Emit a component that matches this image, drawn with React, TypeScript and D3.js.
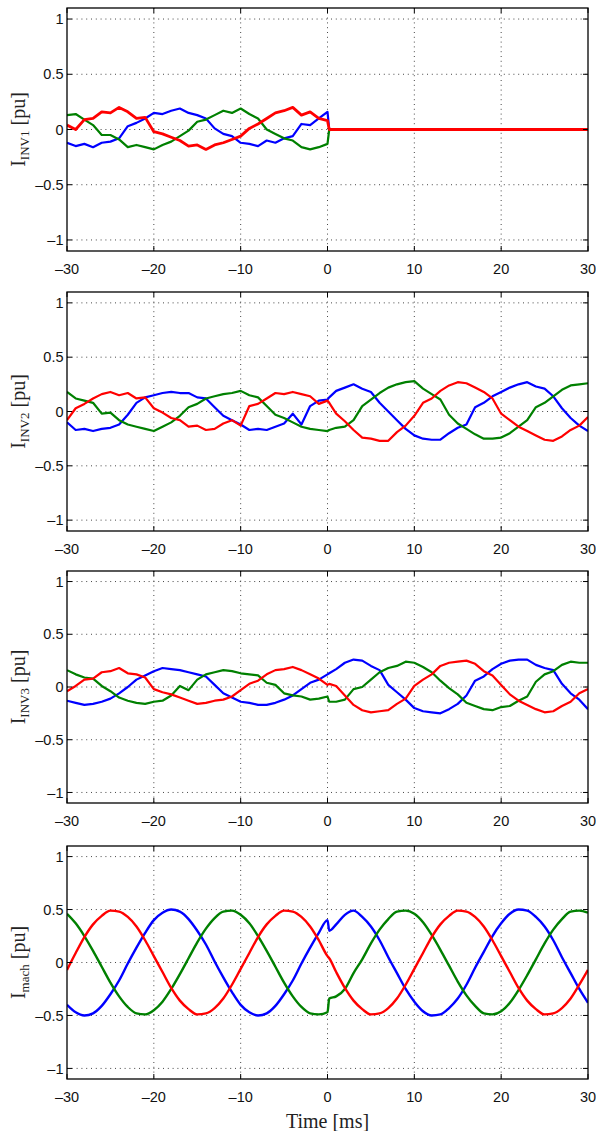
import React from "react";
import * as d3 from "d3";

// time axis [ms]; 0.2 is the sample just after the switching event
const time = [
  -30, -29, -28, -27, -26, -25, -24, -23, -22, -21,
  -20, -19, -18, -17, -16, -15, -14, -13, -12, -11,
  -10, -9, -8, -7, -6, -5, -4, -3, -2, -1,
  0, 0.2,
  1, 2, 3, 4, 5, 6, 7, 8, 9, 10,
  11, 12, 13, 14, 15, 16, 17, 18, 19, 20,
  21, 22, 23, 24, 25, 26, 27, 28, 29, 30,
];

const inv1Blue = [
  -0.12, -0.15, -0.13, -0.16, -0.12, -0.11, -0.08, 0.03, 0.06, 0.1,
  0.15, 0.14, 0.17, 0.19, 0.15, 0.13, 0.1, 0.01, -0.04, -0.06,
  -0.12, -0.13, -0.15, -0.1, -0.12, -0.08, -0.06, 0.05, 0.04, 0.1,
  0.16, 0,
  0, 0, 0, 0, 0, 0, 0, 0, 0, 0,
  0, 0, 0, 0, 0, 0, 0, 0, 0, 0,
  0, 0, 0, 0, 0, 0, 0, 0, 0, 0,
];
const inv1Green = [
  0.13, 0.14, 0.09, 0.04, -0.05, -0.05, -0.09, -0.16, -0.14, -0.16,
  -0.18, -0.14, -0.11, -0.06, -0.01, 0.07, 0.09, 0.13, 0.17, 0.15,
  0.19, 0.14, 0.1, 0.0, -0.04, -0.08, -0.1, -0.16, -0.18, -0.16,
  -0.13, 0,
  0, 0, 0, 0, 0, 0, 0, 0, 0, 0,
  0, 0, 0, 0, 0, 0, 0, 0, 0, 0,
  0, 0, 0, 0, 0, 0, 0, 0, 0, 0,
];
const inv1Red = [
  0.04, 0.0, 0.09, 0.1, 0.16, 0.15, 0.2, 0.16, 0.1, 0.11,
  -0.02, -0.04, -0.07, -0.1, -0.15, -0.14, -0.18, -0.14, -0.12, -0.09,
  -0.06, 0.01, 0.05, 0.1, 0.15, 0.17, 0.2, 0.13, 0.16, 0.1,
  0.08, 0,
  0, 0, 0, 0, 0, 0, 0, 0, 0, 0,
  0, 0, 0, 0, 0, 0, 0, 0, 0, 0,
  0, 0, 0, 0, 0, 0, 0, 0, 0, 0,
];

const inv2Blue = [
  -0.1, -0.17, -0.16, -0.18, -0.16, -0.15, -0.12, -0.03, 0.08, 0.13,
  0.15, 0.17, 0.18, 0.17, 0.17, 0.13, 0.12, 0.04, -0.04, -0.08,
  -0.12, -0.17, -0.16, -0.17, -0.14, -0.11, -0.02, -0.12, 0.05, 0.1,
  0.11, 0.13,
  0.19, 0.22, 0.25, 0.21, 0.18, 0.08, 0.0, -0.08, -0.16, -0.22,
  -0.25, -0.26, -0.26, -0.2, -0.15, -0.12, 0.04, 0.08, 0.14, 0.18,
  0.22, 0.25, 0.27, 0.23, 0.21, 0.14, 0.03, -0.06, -0.13, -0.18,
];
const inv2Green = [
  0.18, 0.12, 0.1, 0.08, -0.02, -0.01, -0.08, -0.12, -0.14, -0.16,
  -0.18, -0.14, -0.1, -0.04, 0.04, 0.07, 0.12, 0.14, 0.16, 0.17,
  0.19, 0.15, 0.13, 0.05, -0.03, -0.06, -0.1, -0.14, -0.16, -0.17,
  -0.18, -0.17,
  -0.15, -0.14, -0.08, 0.05, 0.11, 0.17, 0.22, 0.25, 0.27, 0.28,
  0.21, 0.16, 0.11, -0.03, -0.11, -0.16, -0.21, -0.25, -0.25, -0.24,
  -0.2, -0.14, -0.08, 0.04, 0.08, 0.14, 0.2, 0.24, 0.25, 0.26,
];
const inv2Red = [
  -0.08, 0.03, 0.07, 0.12, 0.16, 0.18, 0.15, 0.17, 0.12, 0.13,
  0.03, -0.01, -0.06, -0.08, -0.14, -0.13, -0.17, -0.16, -0.11, -0.08,
  -0.13, 0.05, 0.07, 0.12, 0.17, 0.16, 0.18, 0.16, 0.14, 0.07,
  0.1, 0.08,
  -0.02, -0.09, -0.17, -0.24, -0.25, -0.27, -0.27, -0.19, -0.13, -0.04,
  0.08, 0.12, 0.19, 0.24, 0.27, 0.26, 0.22, 0.18, 0.12, -0.02,
  -0.08, -0.14, -0.18, -0.22, -0.26, -0.27, -0.23, -0.17, -0.13, -0.05,
];

const inv3Blue = [
  -0.13, -0.15, -0.17, -0.16, -0.14, -0.11, -0.06, 0.0, 0.07, 0.11,
  0.15, 0.18, 0.17, 0.16, 0.14, 0.12, 0.1, 0.02, -0.06, -0.1,
  -0.14, -0.15, -0.17, -0.17, -0.15, -0.12, -0.08, -0.02, 0.04, 0.07,
  0.12, 0.13,
  0.17, 0.23, 0.26, 0.25, 0.2, 0.16, 0.02, -0.05, -0.12, -0.2,
  -0.23, -0.24, -0.25, -0.21, -0.16, -0.08, 0.06, 0.1, 0.17, 0.22,
  0.25, 0.26, 0.26, 0.21, 0.18, 0.16, 0.03, -0.06, -0.12, -0.21,
];
const inv3Green = [
  0.16, 0.12, 0.09, 0.08, 0.01, -0.04, -0.1, -0.13, -0.15, -0.16,
  -0.14, -0.13, -0.08, 0.01, -0.03, 0.07, 0.12, 0.14, 0.16, 0.15,
  0.13, 0.12, 0.11, 0.04, 0.02, -0.06, -0.08, -0.09, -0.12, -0.11,
  -0.09, -0.14,
  -0.14, -0.12, -0.02, 0.0, 0.07, 0.14, 0.18, 0.2, 0.24, 0.23,
  0.19, 0.14, 0.06, -0.01, -0.07, -0.15, -0.18, -0.21, -0.22, -0.19,
  -0.18, -0.13, -0.09, 0.05, 0.12, 0.15, 0.21, 0.24, 0.23, 0.23,
];
const inv3Red = [
  -0.04, 0.01, 0.07, 0.08, 0.14, 0.15, 0.18, 0.13, 0.12, 0.09,
  -0.02, -0.05, -0.07, -0.1, -0.13, -0.16, -0.15, -0.13, -0.12, -0.09,
  -0.03, 0.03, 0.06, 0.12, 0.16, 0.17, 0.19, 0.16, 0.12, 0.08,
  0.02, 0.03,
  0.01, -0.08, -0.17, -0.22, -0.24, -0.23, -0.22, -0.16, -0.11, 0.01,
  0.07, 0.12, 0.2, 0.23, 0.24, 0.25, 0.22, 0.15, 0.11, 0.02,
  -0.07, -0.13, -0.17, -0.21, -0.24, -0.23, -0.18, -0.14, -0.06, -0.02,
];

const machBlue = [
  -0.4, -0.47, -0.5, -0.48, -0.41, -0.3, -0.17, -0.01, 0.14, 0.28,
  0.4, 0.47, 0.5, 0.48, 0.41, 0.3, 0.17, 0.01, -0.14, -0.28,
  -0.4, -0.47, -0.5, -0.48, -0.41, -0.3, -0.17, -0.01, 0.14, 0.28,
  0.4, 0.3,
  0.36, 0.45, 0.49, 0.43, 0.34, 0.21, 0.05, -0.1, -0.25, -0.37,
  -0.46, -0.5, -0.49, -0.43, -0.34, -0.21, -0.05, 0.1, 0.25, 0.37,
  0.46, 0.5, 0.49, 0.43, 0.34, 0.21, 0.05, -0.1, -0.25, -0.38,
];
const machGreen = [
  0.46, 0.37, 0.25, 0.11, -0.04, -0.19, -0.32, -0.42, -0.48, -0.49,
  -0.45, -0.37, -0.25, -0.11, 0.04, 0.19, 0.32, 0.42, 0.48, 0.49,
  0.45, 0.37, 0.25, 0.11, -0.04, -0.19, -0.32, -0.42, -0.48, -0.49,
  -0.47, -0.34,
  -0.32, -0.25, -0.1, 0.03, 0.18, 0.31, 0.41, 0.48, 0.49, 0.46,
  0.38, 0.26, 0.12, -0.03, -0.18, -0.31, -0.41, -0.48, -0.49, -0.46,
  -0.38, -0.26, -0.12, 0.03, 0.18, 0.31, 0.41, 0.48, 0.49, 0.47,
];
const machRed = [
  -0.07, 0.09, 0.24, 0.36, 0.44, 0.49, 0.48, 0.43, 0.34, 0.21,
  0.06, -0.09, -0.24, -0.36, -0.44, -0.49, -0.48, -0.43, -0.34, -0.21,
  -0.06, 0.09, 0.24, 0.36, 0.44, 0.49, 0.48, 0.43, 0.34, 0.21,
  0.06, 0.04,
  -0.09, -0.24, -0.36, -0.44, -0.49, -0.48, -0.43, -0.34, -0.21, -0.06,
  0.09, 0.24, 0.36, 0.44, 0.49, 0.48, 0.43, 0.34, 0.21, 0.06,
  -0.09, -0.24, -0.36, -0.44, -0.49, -0.48, -0.43, -0.34, -0.21, -0.07,
];

const xTicks = [-30, -20, -10, 0, 10, 20, 30];
const yTicks = [-1, -0.5, 0, 0.5, 1];
const labels = ["INV1", "INV2", "INV3", "mach"];

const panels = [
  { sub: labels[0], series: [inv1Blue, inv1Green, inv1Red], top: 8, bottom: 251, smooth: false, lastExtra: 0.6 },
  { sub: labels[1], series: [inv2Blue, inv2Green, inv2Red], top: 292, bottom: 531, smooth: false, lastExtra: 0 },
  { sub: labels[2], series: [inv3Blue, inv3Green, inv3Red], top: 571, bottom: 803, smooth: false, lastExtra: 0 },
  { sub: labels[3], series: [machBlue, machGreen, machRed], top: 846, bottom: 1079, smooth: true, lastExtra: 0 },
];

const colors = ["#0000ff", "#008000", "#ff0000"];
const W = 596;
const H = 1131;
const left = 67;
const right = 588;
const sans = "'Liberation Sans', Arial, Helvetica, sans-serif";
const serif = "'Liberation Serif', 'Times New Roman', Times, serif";

const fmt = (v: number) => (v < 0 ? "\u2013" + Math.abs(v) : String(v));

function Panel({ p, idx }: { p: any; idx: number }) {
  const x = d3.scaleLinear().domain([-30, 30]).range([left, right]);
  const y = d3.scaleLinear().domain([-1.1, 1.1]).range([p.bottom, p.top]);
  const line = d3
    .line<number>()
    .x((_, i) => x(time[i]))
    .y((d) => y(d))
    .curve(p.smooth ? d3.curveMonotoneX : d3.curveLinear);
  const clipId = `clip${idx}`;
  const cy = (p.top + p.bottom) / 2;
  const base = p.smooth ? 2.4 : 2.2;

  return (
    <g>
      <defs>
        <clipPath id={clipId}>
          <rect x={left} y={p.top} width={right - left} height={p.bottom - p.top} />
        </clipPath>
      </defs>
      <rect x={left} y={p.top} width={right - left} height={p.bottom - p.top} fill="#fff" />
      {/* dotted grid */}
      {xTicks.slice(1, -1).map((t) => (
        <line key={"gx" + t} x1={x(t)} x2={x(t)} y1={p.top} y2={p.bottom}
          stroke="#333" strokeWidth={0.9} strokeDasharray="1 3.8" />
      ))}
      {yTicks.map((t) => (
        <line key={"gy" + t} x1={left} x2={right} y1={y(t)} y2={y(t)}
          stroke="#333" strokeWidth={0.9} strokeDasharray="1 3.8" />
      ))}
      <g clipPath={`url(#${clipId})`}>
        {p.series.map((s: number[], i: number) => (
          <path key={i} d={line(s) || ""} fill="none" stroke={colors[i]}
            strokeWidth={i === 2 ? base + p.lastExtra : base} strokeLinejoin="round" />
        ))}
      </g>
      {/* box and inward ticks */}
      <rect x={left} y={p.top} width={right - left} height={p.bottom - p.top}
        fill="none" stroke="#000" strokeWidth={1.3} />
      {xTicks.map((t) => (
        <g key={"tx" + t}>
          <line x1={x(t)} x2={x(t)} y1={p.bottom} y2={p.bottom - 5} stroke="#000" strokeWidth={1} />
          <line x1={x(t)} x2={x(t)} y1={p.top} y2={p.top + 5} stroke="#000" strokeWidth={1} />
          <text x={x(t)} y={p.bottom + 22.5} textAnchor="middle" fontFamily={sans}
            fontSize={14.5} fill="#111">{fmt(t)}</text>
        </g>
      ))}
      {yTicks.map((t) => (
        <g key={"ty" + t}>
          <line x1={left} x2={left + 5} y1={y(t)} y2={y(t)} stroke="#000" strokeWidth={1} />
          <line x1={right} x2={right - 5} y1={y(t)} y2={y(t)} stroke="#000" strokeWidth={1} />
          <text x={63.5} y={y(t)} dy="0.36em" textAnchor="end" fontFamily={sans}
            fontSize={14.5} fill="#111">{fmt(t)}</text>
        </g>
      ))}
      <text transform={`translate(25, ${cy}) rotate(-90)`} textAnchor="middle"
        fontFamily={serif} fontSize={20} fill="#222">
        I<tspan fontSize={13} dy={4}>{p.sub}</tspan>
        <tspan dy={-4}> [pu]</tspan>
      </text>
    </g>
  );
}

export default function App() {
  return (
    <svg width={W} height={H} viewBox={`0 0 ${W} ${H}`}
      style={{ position: "absolute", left: 0, top: 0, background: "#fff" }}>
      <rect width={W} height={H} fill="#fff" />
      {panels.map((p, i) => (
        <Panel key={i} p={p} idx={i} />
      ))}
      <text x={(left + right) / 2} y={1127.5} textAnchor="middle" fontFamily={serif}
        fontSize={20} fill="#222">Time [ms]</text>
    </svg>
  );
}
